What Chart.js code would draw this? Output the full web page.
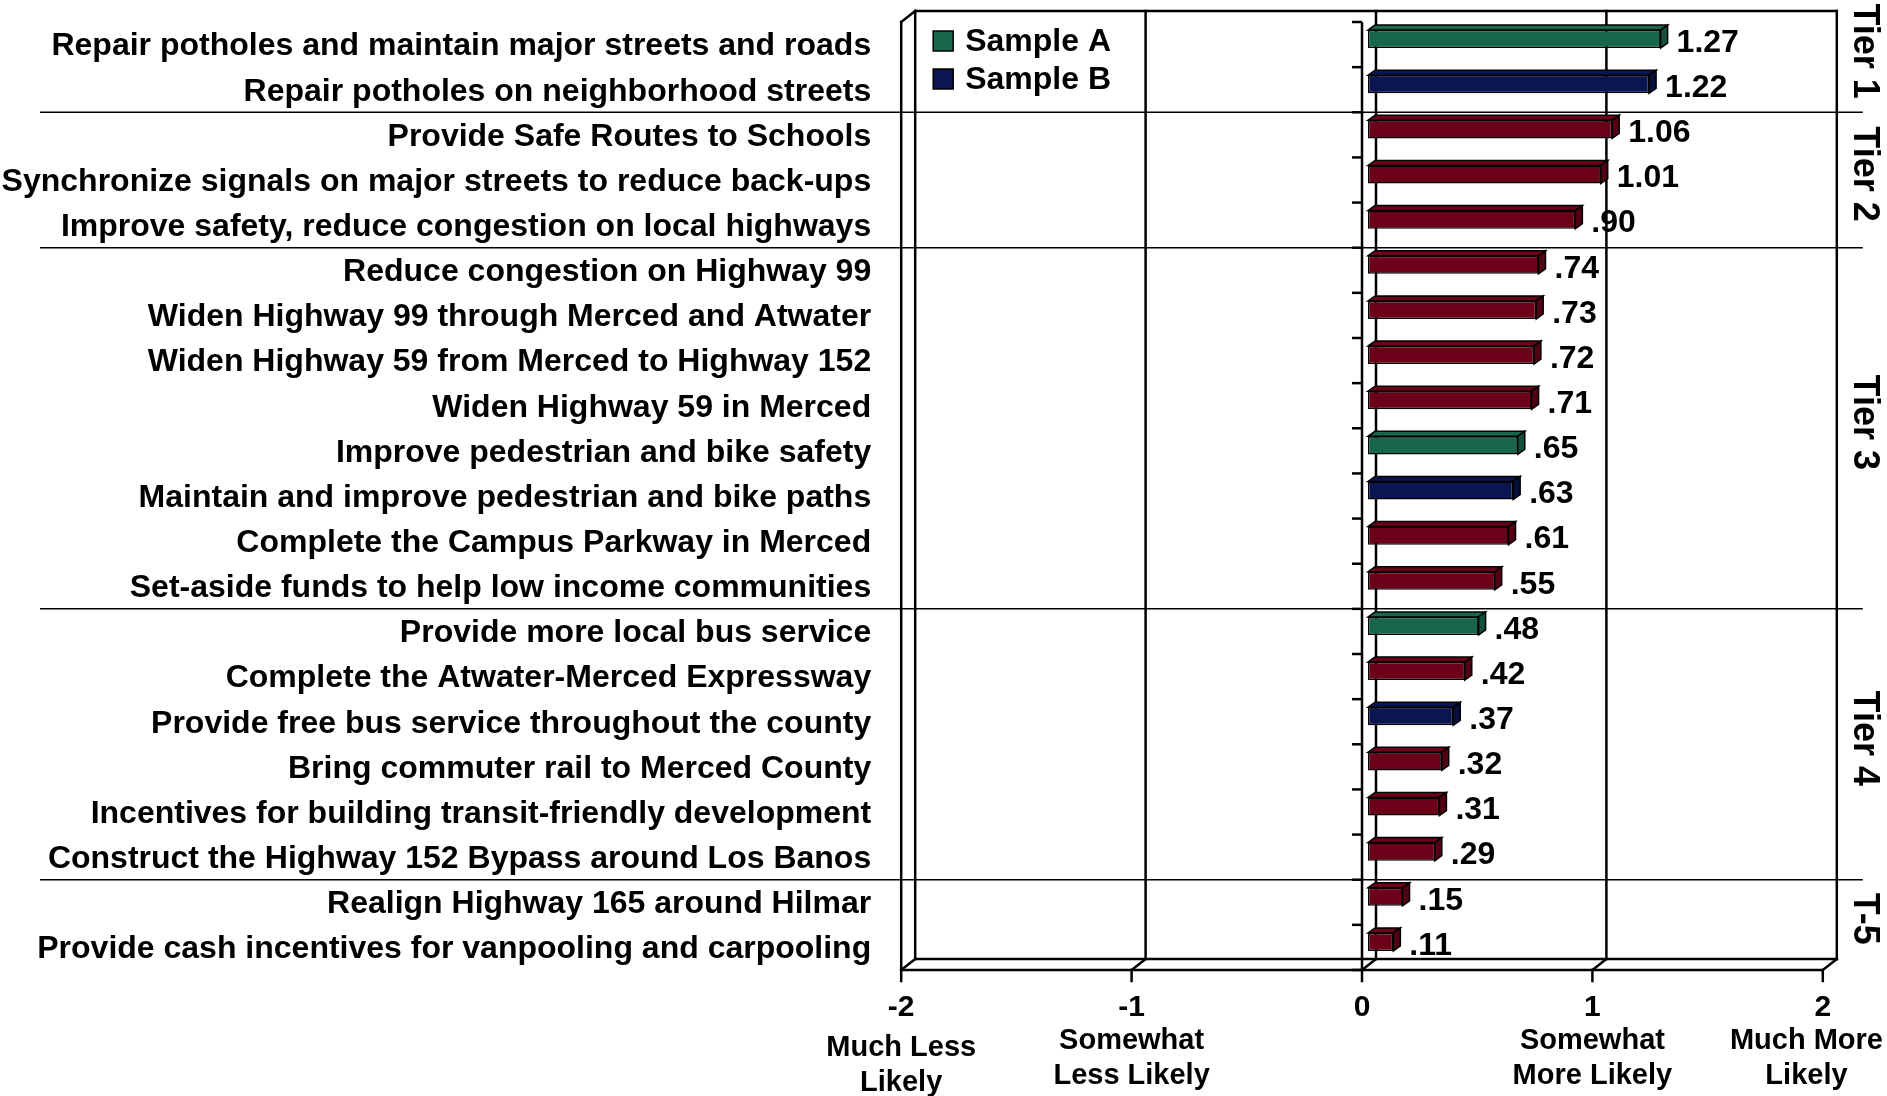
<!DOCTYPE html>
<html>
<head>
<meta charset="utf-8">
<script src="https://cdn.jsdelivr.net/npm/chart.js@4.4.1/dist/chart.umd.min.js"></script>
<style>
  html, body { margin: 0; padding: 0; background: #fff; }
  #wrap { width: 1887px; height: 1096px; position: relative; }
</style>
</head>
<body>
<div id="wrap"><canvas id="chart"></canvas></div>
<script>
const categories = [
  'Repair potholes and maintain major streets and roads',
  'Repair potholes on neighborhood streets',
  'Provide Safe Routes to Schools',
  'Synchronize signals on major streets to reduce back-ups',
  'Improve safety, reduce congestion on local highways',
  'Reduce congestion on Highway 99',
  'Widen Highway 99 through Merced and Atwater',
  'Widen Highway 59 from Merced to Highway 152',
  'Widen Highway 59 in Merced',
  'Improve pedestrian and bike safety',
  'Maintain and improve pedestrian and bike paths',
  'Complete the Campus Parkway in Merced',
  'Set-aside funds to help low income communities',
  'Provide more local bus service',
  'Complete the Atwater-Merced Expressway',
  'Provide free bus service throughout the county',
  'Bring commuter rail to Merced County',
  'Incentives for building transit-friendly development',
  'Construct the Highway 152 Bypass around Los Banos',
  'Realign Highway 165 around Hilmar',
  'Provide cash incentives for vanpooling and carpooling'
];
const values = [1.27, 1.22, 1.06, 1.01, 0.90, 0.74, 0.73, 0.72, 0.71, 0.65, 0.63, 0.61, 0.55, 0.48, 0.42, 0.37, 0.32, 0.31, 0.29, 0.15, 0.11];
const sampleGroup = ['A', 'B', 'both', 'both', 'both', 'both', 'both', 'both', 'both', 'A', 'B', 'both', 'both', 'A', 'both', 'B', 'both', 'both', 'both', 'both', 'both'];
const legendGroups = ['A', 'B'];
const legendNames = ['Sample A', 'Sample B'];
const tierNames = ['Tier 1', 'Tier 2', 'Tier 3', 'Tier 4', 'T-5'];
const tierSizes = [2, 3, 8, 6, 2];
const xTickValues = [-2, -1, 0, 1, 2];
const xTickNotes = [['Much Less', 'Likely'], ['Somewhat', 'Less Likely'], [], ['Somewhat', 'More Likely'], ['Much More', 'Likely']];

const groupColors = { A: '#17684b', B: '#0b1552', both: '#6b0018' };
const sideColors = { A: '#115239', B: '#070f3e', both: '#520012' };
const FONT = '"Liberation Sans", Arial, sans-serif';

// the bars sit in the middle of the 3D box, front and back planes are shifted
const FRONT = { dx: -6, dy: 5.5 };
const BACK = { dx: 8, dy: -5.5 };
const DEPTH = { dx: 7, dy: 5 };

function formatValue(v) {
  const s = v.toFixed(2);
  return v < 1 ? s.replace(/^0/, '') : s;
}

function line(ctx, x1, y1, x2, y2) {
  ctx.beginPath();
  ctx.moveTo(x1, y1);
  ctx.lineTo(x2, y2);
  ctx.stroke();
}

const boxPlugin = {
  id: 'box3d',
  beforeDatasetsDraw(chart) {
    const ctx = chart.ctx;
    const ca = chart.chartArea;
    const xs = chart.scales.x;
    const rowH = (ca.bottom - ca.top) / categories.length;
    const xl = xs.getPixelForValue(-2), xr = xs.getPixelForValue(2);
    ctx.save();
    ctx.strokeStyle = '#000';
    ctx.lineCap = 'square';

    // back wall gridlines
    ctx.lineWidth = 2.5;
    xTickValues.forEach(v => {
      const x = xs.getPixelForValue(v) + BACK.dx;
      line(ctx, x, ca.top + BACK.dy, x, ca.bottom + BACK.dy);
    });
    line(ctx, xl + BACK.dx, ca.top + BACK.dy, xr + BACK.dx, ca.top + BACK.dy);
    // left wall
    line(ctx, xl + FRONT.dx, ca.top + FRONT.dy, xl + FRONT.dx, ca.bottom + FRONT.dy);
    line(ctx, xl + FRONT.dx, ca.top + FRONT.dy, xl + BACK.dx, ca.top + BACK.dy);
    // floor
    line(ctx, xl + BACK.dx, ca.bottom + BACK.dy, xr + BACK.dx, ca.bottom + BACK.dy);
    line(ctx, xl + FRONT.dx, ca.bottom + FRONT.dy, xr + FRONT.dx, ca.bottom + FRONT.dy);
    xTickValues.forEach(v => {
      const x = xs.getPixelForValue(v);
      line(ctx, x + FRONT.dx, ca.bottom + FRONT.dy, x + BACK.dx, ca.bottom + BACK.dy);
      line(ctx, x + FRONT.dx, ca.bottom + FRONT.dy, x + FRONT.dx, ca.bottom + FRONT.dy + 11);
    });

    // tier separators
    ctx.lineWidth = 1.5;
    ctx.lineCap = 'butt';
    let k = 0;
    tierSizes.slice(0, -1).forEach(size => {
      k += size;
      const y = ca.top + k * rowH + FRONT.dy;
      line(ctx, 40, y, xr + BACK.dx + 26, y);
    });

    // category axis line with ticks
    ctx.lineWidth = 2.5;
    const x0 = xs.getPixelForValue(0) + FRONT.dx;
    line(ctx, x0, ca.top + FRONT.dy, x0, ca.bottom + FRONT.dy);
    for (let i = 0; i <= categories.length; i++) {
      const y = ca.top + i * rowH + FRONT.dy;
      line(ctx, x0 - 10, y, x0, y);
    }
    ctx.restore();
  },
  afterDatasetsDraw(chart) {
    const ctx = chart.ctx;
    const meta = chart.getDatasetMeta(0);
    ctx.save();
    ctx.lineWidth = 1.5;
    ctx.strokeStyle = '#000';
    ctx.lineJoin = 'miter';
    meta.data.forEach((bar, i) => {
      const p = bar.getProps(['x', 'y', 'base', 'height'], true);
      const top = p.y - p.height / 2, bottom = p.y + p.height / 2;
      const g = sampleGroup[i];
      // top face
      ctx.fillStyle = groupColors[g];
      ctx.beginPath();
      ctx.moveTo(p.base, top);
      ctx.lineTo(p.x, top);
      ctx.lineTo(p.x + DEPTH.dx, top - DEPTH.dy);
      ctx.lineTo(p.base + DEPTH.dx, top - DEPTH.dy);
      ctx.closePath();
      ctx.fill();
      ctx.stroke();
      // side face
      ctx.fillStyle = sideColors[g];
      ctx.beginPath();
      ctx.moveTo(p.x, top);
      ctx.lineTo(p.x + DEPTH.dx, top - DEPTH.dy);
      ctx.lineTo(p.x + DEPTH.dx, bottom - DEPTH.dy);
      ctx.lineTo(p.x, bottom);
      ctx.closePath();
      ctx.fill();
      ctx.stroke();
      // value label
      ctx.fillStyle = '#000';
      ctx.font = 'bold 32px ' + FONT;
      ctx.textAlign = 'left';
      ctx.textBaseline = 'middle';
      ctx.fillText(formatValue(values[i]), p.x + DEPTH.dx + 9, p.y + 4);
    });
    ctx.restore();
  },
  afterDraw(chart) {
    const ctx = chart.ctx;
    const ca = chart.chartArea;
    const xs = chart.scales.x;
    const rowH = (ca.bottom - ca.top) / categories.length;
    const xl = xs.getPixelForValue(-2), xr = xs.getPixelForValue(2);
    ctx.save();
    ctx.fillStyle = '#000';

    // legend inside the back wall
    ctx.font = 'bold 32px ' + FONT;
    ctx.textAlign = 'left';
    ctx.textBaseline = 'middle';
    legendGroups.forEach((g, i) => {
      const cy = ca.top + 24.5 + i * 38;
      const sx = xl + BACK.dx + 18;
      ctx.fillStyle = groupColors[g];
      ctx.fillRect(sx, cy - 10, 20, 20);
      ctx.strokeStyle = '#000';
      ctx.lineWidth = 1.5;
      ctx.strokeRect(sx, cy - 10, 20, 20);
      ctx.fillStyle = '#000';
      ctx.fillText(legendNames[i], sx + 32, cy + 1);
    });

    // x axis labels
    ctx.textAlign = 'center';
    const base = ca.bottom + FRONT.dy;
    xTickValues.forEach((v, i) => {
      const x = xs.getPixelForValue(v) + FRONT.dx;
      ctx.font = 'bold 30px ' + FONT;
      ctx.fillText(String(v), x, base + 38);
      const notes = xTickNotes[i];
      ctx.font = 'bold 29px ' + FONT;
      const w = Math.max(0, ...notes.map(t => ctx.measureText(t).width));
      const cx = Math.min(x, chart.width - 4 - w / 2);
      const shift = i === 0 ? 7 : 0;
      notes.forEach((t, j) => ctx.fillText(t, cx, base + 71 + shift + j * 35));
    });

    // tier labels, rotated; keep the first one tucked near the top edge
    ctx.font = 'bold 36px ' + FONT;
    let start = 0;
    tierNames.forEach((name, i) => {
      let cy = ca.top + FRONT.dy + (start + tierSizes[i] / 2) * rowH;
      start += tierSizes[i];
      const half = ctx.measureText(name).width / 2;
      if (i === 0) cy = Math.max(half + 2, cy - 16);
      else cy -= 6;
      ctx.save();
      ctx.translate(xr + BACK.dx + 27, cy);
      ctx.rotate(Math.PI / 2);
      ctx.textAlign = 'center';
      ctx.textBaseline = 'middle';
      ctx.fillText(name, 0, 0);
      ctx.restore();
    });
    ctx.restore();
  }
};

new Chart(document.getElementById('chart'), {
  type: 'bar',
  data: {
    labels: categories,
    datasets: [{
      data: values,
      backgroundColor: sampleGroup.map(g => groupColors[g]),
      borderColor: '#000',
      borderWidth: 1.5,
      borderSkipped: false,
      barPercentage: 0.4,
      categoryPercentage: 1
    }]
  },
  options: {
    indexAxis: 'y',
    responsive: true,
    maintainAspectRatio: false,
    animation: false,
    devicePixelRatio: 1,
    layout: { padding: { left: 0, right: 58.2, top: 16.5, bottom: 0 } },
    plugins: { legend: { display: false }, tooltip: { enabled: false } },
    scales: {
      x: {
        type: 'linear',
        min: -2,
        max: 2,
        ticks: { display: false, stepSize: 1 },
        grid: { display: false, drawTicks: false },
        border: { display: false },
        afterFit: s => { s.height = 131.5; s.paddingLeft = 0; s.paddingRight = 0; }
      },
      y: {
        type: 'category',
        position: 'left',
        grid: { display: false, drawTicks: false },
        border: { display: false },
        ticks: {
          color: '#000',
          font: { family: FONT, size: 32, weight: 'bold' },
          padding: 36,
          autoSkip: false,
          labelOffset: 7.5
        },
        afterFit: s => { s.width = 907.2; s.paddingTop = 0; s.paddingBottom = 0; }
      }
    }
  },
  plugins: [boxPlugin]
});
</script>
</body>
</html>
